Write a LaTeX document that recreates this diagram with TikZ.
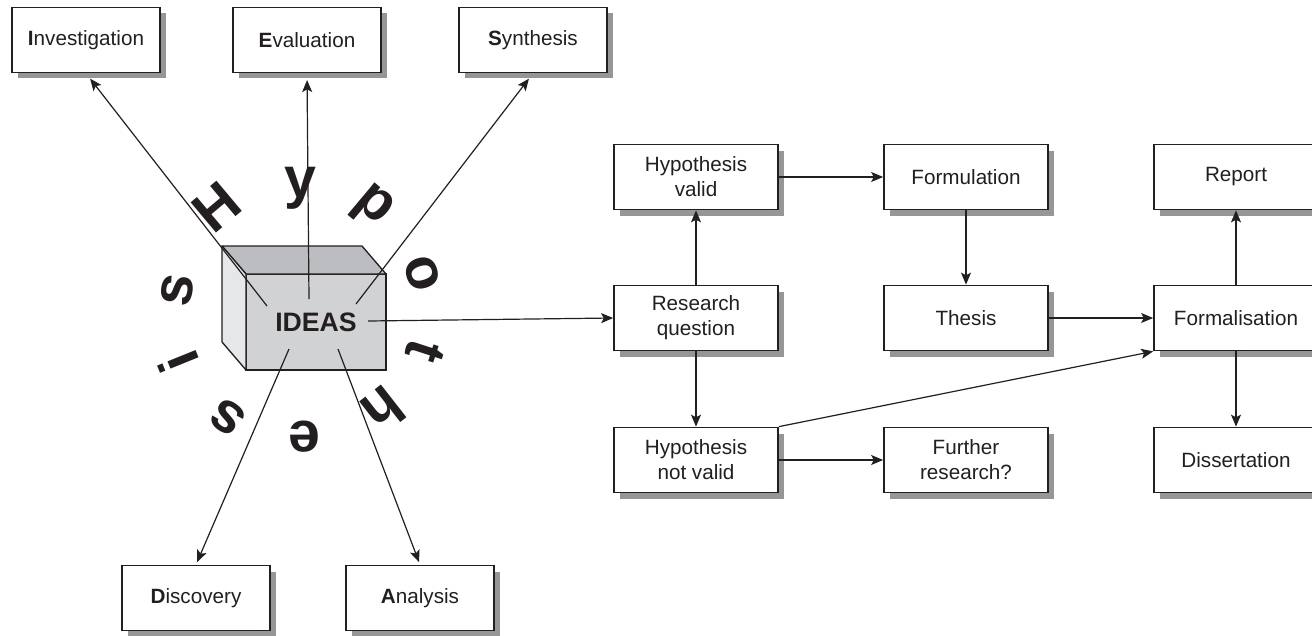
\documentclass[tikz,border=0pt]{standalone}
\usepackage{fontspec}
\setmainfont{Liberation Sans}
\usetikzlibrary{arrows.meta, positioning, calc, shadows}

\definecolor{ink}{RGB}{35,31,32}
\definecolor{shadowgray}{RGB}{150,150,152}
\definecolor{cubefront}{RGB}{209,210,212}
\definecolor{cubetop}{RGB}{188,189,192}
\definecolor{cubeside}{RGB}{230,231,232}

\begin{document}
\begin{tikzpicture}[x=0.75pt, y=-0.75pt, >={Stealth[length=9pt, width=7.5pt, inset=2pt]},
    box/.style={draw=ink, line width=1.3pt, fill=white, text=ink, align=center,
      minimum height=48.75pt, font=\fontsize{15.5}{18.75}\selectfont,
      drop shadow={shadow xshift=4.5pt, shadow yshift=-4.5pt, fill=shadowgray, opacity=1}},
    smallbox/.style={box, minimum width=111pt},
    widebox/.style={box, minimum width=123pt},
    link/.style={->, draw=ink, line width=0.9pt},
    hypletter/.style={font=\fontsize{43}{43}\selectfont\bfseries, text=ink, inner sep=0pt}]
        \useasboundingbox (0,0) rectangle (1312,635);
        % Hypothesis written round the cube
        \foreach \ch/\px/\py/\rot [count=\n] in {H/217/207/40, y/300/188/0, p/372/207/-40,
            o/422/273/-72, t/425/351/-108, h/383/410/-142, e/305/437/180, s/228/417/144,
            i/178/362/112, s/177/290/80}
          \node[hypletter, rotate=\rot] (hyp\n) at (\px,\py) {\ch};
        % Ideas cube
        \node[draw=ink, line width=1pt, fill=cubefront, outer sep=0pt, text=ink,
          minimum width=105pt, minimum height=72pt,
          font=\fontsize{20}{20}\selectfont\bfseries] (ideas) at (316,322) {IDEAS};
        \draw[ink, line width=1pt, fill=cubetop, line join=round]
          (ideas.north west) -- ++(-24,-28) -- ++(140,0) -- (ideas.north east) -- cycle;
        \draw[ink, line width=1pt, fill=cubeside, line join=round]
          (ideas.north west) -- ++(-24,-28) -- ++(0,96) -- (ideas.south west) -- cycle;
        % Outer boxes
        \node[smallbox] (inv) at (86,40) {\textbf{I}nvestigation};
        \node[smallbox] (eva) at (307,40) {\textbf{E}valuation};
        \node[smallbox] (syn) at (533,40) {\textbf{S}ynthesis};
        \node[smallbox] (dis) at (196,598) {\textbf{D}iscovery};
        \node[smallbox] (ana) at (420,598) {\textbf{A}nalysis};
        % Research flow
        \node[widebox] (hv) at (696,177) {Hypothesis\\valid};
        \node[widebox] (form) at (966,177) {Formulation};
        \node[widebox] (rep) at (1236,177) {Report};
        \node[widebox] (rq) at (696,318) {Research\\question};
        \node[widebox] (the) at (966,318) {Thesis};
        \node[widebox] (fml) at (1236,318) {Formalisation};
        \node[widebox] (hnv) at (696,460) {Hypothesis\\not valid};
        \node[widebox] (fur) at (966,460) {Further\\research?};
        \node[widebox] (dst) at (1236,460) {Dissertation};
        % Lines out of the cube
        \coordinate (fromI) at (267,306);
        \coordinate (fromE) at (309,299);
        \coordinate (fromS) at (356,304);
        \coordinate (fromR) at (368,321);
        \coordinate (fromD) at (289,349);
        \coordinate (fromA) at (338,349);
        \draw[link, shorten >=5pt] (fromI) -- (inv.south);
        \draw[link, shorten >=5pt] (fromE) -- (eva.south);
        \draw[link, shorten >=5pt] (fromS) -- (syn.south);
        \draw[link, shorten >=2pt] (fromD) -- (dis.north);
        \draw[link, shorten >=2pt] (fromA) -- (ana.north);
        \draw[link] (fromR) -- (rq.west);
        % Flow arrows
        \draw[link] (rq) -- (hv);
        \draw[link] (rq) -- (hnv);
        \draw[link] (hv) -- (form);
        \draw[link] (form) -- (the);
        \draw[link] (the) -- (fml);
        \draw[link] (hnv.north east) -- (fml.south west);
        \draw[link] (hnv) -- (fur);
        \draw[link] (fml) -- (rep);
        \draw[link] (fml) -- (dst);
    \end{tikzpicture}
\end{document}
